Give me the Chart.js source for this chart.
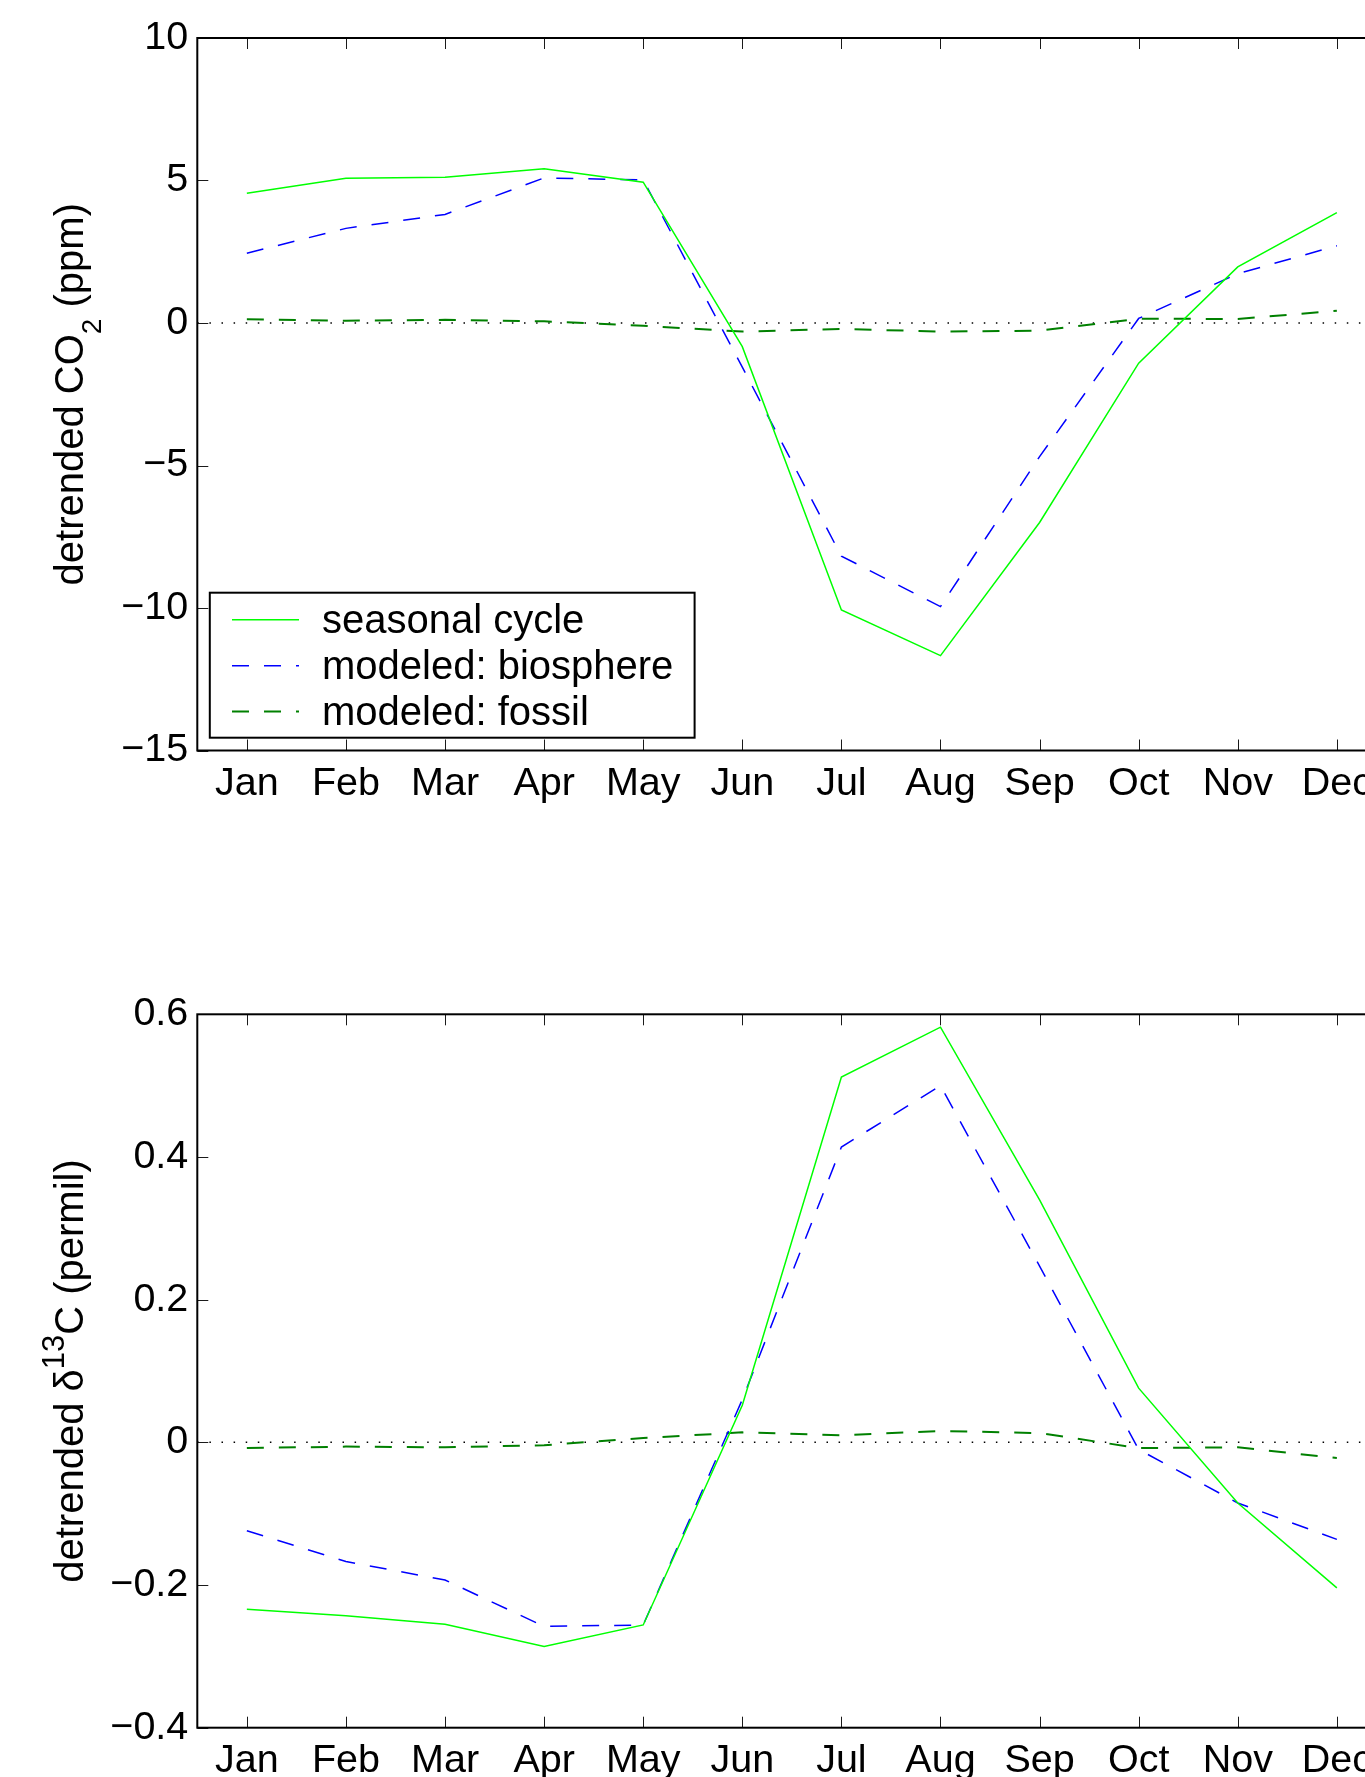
<!DOCTYPE html>
<html>
<head>
<meta charset="utf-8">
<script src="https://cdn.jsdelivr.net/npm/chart.js@4.4.1/dist/chart.umd.min.js"></script>
<style>
html,body{margin:0;padding:0;background:#fff;overflow:hidden;width:1365px;height:1777px;}
#wrap{position:relative;width:1365px;height:1777px;overflow:hidden;background:#fff;}
canvas{position:absolute;left:0;}
#c1{top:0;}
#c2{top:880px;}
</style>
</head>
<body>
<div id="wrap">
<canvas id="c1" width="1400" height="880"></canvas>
<canvas id="c2" width="1400" height="897"></canvas>
</div>
<script>
// ---------- data ----------
const months = ['Jan','Feb','Mar','Apr','May','Jun','Jul','Aug','Sep','Oct','Nov','Dec'];
const seriesNames = ['seasonal cycle','modeled: biosphere','modeled: fossil'];

const co2Seasonal  = [4.55, 5.08, 5.11, 5.41, 4.94, -0.83, -10.07, -11.67, -7.00, -1.41, 1.97, 3.87];
const co2Biosphere = [2.45, 3.32, 3.81, 5.09, 5.02, -1.55, -8.18, -9.95, -4.69, 0.16, 1.73, 2.71];
const co2Fossil    = [0.13, 0.08, 0.11, 0.06, -0.10, -0.30, -0.21, -0.30, -0.27, 0.15, 0.14, 0.43];

const d13Seasonal  = [-0.234, -0.243, -0.255, -0.286, -0.256, 0.052, 0.512, 0.582, 0.340, 0.076, -0.085, -0.204];
const d13Biosphere = [-0.124, -0.167, -0.193, -0.258, -0.256, 0.060, 0.414, 0.500, 0.247, -0.010, -0.085, -0.136];
const d13Fossil    = [-0.008, -0.006, -0.007, -0.004, 0.006, 0.014, 0.010, 0.016, 0.013, -0.008, -0.007, -0.022];

const co2TickValues = [-15, -10, -5, 0, 5, 10];
const co2TickLabels = ['\u221215', '\u221210', '\u22125', '0', '5', '10'];
const d13TickValues = [-0.4, -0.2, 0, 0.2, 0.4, 0.6];
const d13TickLabels = ['\u22120.4', '\u22120.2', '0', '0.2', '0.4', '0.6'];

const co2TitleParts = [['detrended CO', 0], ['2', 1], [' (ppm)', 0]];
const d13TitleParts = [['detrended \u03b4', 0], ['13', -1], ['C (permil)', 0]];

// ---------- styling ----------
const FONT = '"Liberation Sans", Arial, Helvetica, sans-serif';
const TICK_SIZE = 39.5;
const styles = [
  {borderColor: '#00ff00', borderWidth: 1.5, borderDash: []},
  {borderColor: '#0000ff', borderWidth: 1.5, borderDash: [17, 15]},
  {borderColor: '#008000', borderWidth: 2, borderDash: [17, 15]}
];

const framePlugin = {
  id: 'matlabFrame',
  beforeDatasetsDraw(chart) {
    const {ctx, chartArea: a, scales: {y}} = chart;
    const y0 = y.getPixelForValue(0);
    ctx.save();
    ctx.strokeStyle = '#000';
    ctx.lineWidth = 1.5;
    ctx.setLineDash([1.5, 10.6]);
    ctx.beginPath();
    ctx.moveTo(a.left, y0);
    ctx.lineTo(a.right, y0);
    ctx.stroke();
    ctx.restore();
  },
  afterDraw(chart, args, opts) {
    const {ctx, chartArea: a, scales: {x, y}} = chart;
    ctx.save();
    // ticks (inward, all sides)
    ctx.strokeStyle = '#1a1a1a';
    ctx.lineWidth = 1;
    ctx.setLineDash([]);
    const tl = 11;
    ctx.beginPath();
    months.forEach((m, i) => {
      const px = Math.round(x.getPixelForValue(i)) + 0.5;
      ctx.moveTo(px, a.bottom); ctx.lineTo(px, a.bottom - tl);
      ctx.moveTo(px, a.top); ctx.lineTo(px, a.top + tl);
    });
    opts.tickValues.forEach(v => {
      const py = Math.round(y.getPixelForValue(v)) + 0.5;
      ctx.moveTo(a.left, py); ctx.lineTo(a.left + tl, py);
      ctx.moveTo(a.right, py); ctx.lineTo(a.right - tl, py);
    });
    ctx.stroke();
    // frame
    ctx.strokeStyle = '#000';
    ctx.lineWidth = 2;
    ctx.strokeRect(a.left, a.top, a.right - a.left, a.bottom - a.top);

    // y title (rich text, rotated)
    const main = 40;
    const parts = opts.title.map(([t, k]) => ({t, k, size: k === 0 ? main : (k === 1 ? 28 : 31)}));
    let total = 0;
    parts.forEach(p => { ctx.font = p.size + 'px ' + FONT; p.w = ctx.measureText(p.t).width; total += p.w; });
    const cy = (a.top + a.bottom) / 2;
    ctx.translate(83, cy);
    ctx.rotate(-Math.PI / 2);
    ctx.fillStyle = '#000';
    ctx.textBaseline = 'alphabetic';
    ctx.textAlign = 'left';
    let cx = -total / 2;
    parts.forEach(p => {
      ctx.font = p.size + 'px ' + FONT;
      const dy = p.k === 1 ? 18 : (p.k === -1 ? -19 : 0);
      ctx.fillText(p.t, cx, dy);
      cx += p.w;
    });
    ctx.restore();

    // legend
    if (opts.legend) {
      ctx.save();
      const L = 209.8, T = 592.7, R = 694.6, B = 737.7;
      ctx.fillStyle = '#fff';
      ctx.fillRect(L, T, R - L, B - T);
      ctx.strokeStyle = '#000';
      ctx.lineWidth = 2;
      ctx.strokeRect(L, T, R - L, B - T);
      const baselines = [633.3, 679.3, 725.0];
      chart.data.datasets.forEach((ds, i) => {
        const by = baselines[i];
        ctx.save();
        ctx.strokeStyle = ds.borderColor;
        ctx.lineWidth = ds.borderWidth;
        ctx.setLineDash(ds.borderDash || []);
        ctx.beginPath();
        ctx.moveTo(232, by - 13.5);
        ctx.lineTo(299, by - 13.5);
        ctx.stroke();
        ctx.restore();
        ctx.fillStyle = '#000';
        ctx.font = '40px ' + FONT;
        ctx.textBaseline = 'alphabetic';
        ctx.textAlign = 'left';
        ctx.fillText(ds.label, 322, by);
      });
      ctx.restore();
    }
  }
};

function makeChart(id, cfg) {
  const datasets = [cfg.s, cfg.b, cfg.f].map((d, i) => Object.assign({
    label: seriesNames[i],
    data: d,
    pointRadius: 0,
    tension: 0,
    fill: false
  }, styles[i]));
  return new Chart(document.getElementById(id), {
    type: 'line',
    data: {labels: months, datasets},
    options: {
      responsive: false,
      animation: false,
      devicePixelRatio: 1,
      layout: {padding: {left: 0, right: 13.6, top: cfg.top, bottom: 0}},
      plugins: {
        legend: {display: false},
        tooltip: {enabled: false},
        matlabFrame: {tickValues: cfg.tv, title: cfg.title, legend: cfg.legend}
      },
      scales: {
        x: {
          type: 'category',
          offset: true,
          grid: {display: false},
          border: {display: false},
          ticks: {font: {family: FONT, size: TICK_SIZE}, color: '#000', padding: 2, maxRotation: 0, autoSkip: false},
          afterFit(s) { s.height = cfg.xh; }
        },
        y: {
          min: cfg.tv[0],
          max: cfg.tv[cfg.tv.length - 1],
          grid: {display: false},
          border: {display: false},
          afterBuildTicks(s) { s.ticks = cfg.tv.map(v => ({value: v})); },
          ticks: {
            font: {family: FONT, size: TICK_SIZE}, color: '#000', padding: 1,
            callback: (v) => {
              const k = cfg.tv.findIndex(t => Math.abs(t - v) < 1e-9);
              return k >= 0 ? cfg.tl[k] : '';
            }
          },
          afterFit(s) { s.width = 197.3; }
        }
      }
    },
    plugins: [framePlugin]
  });
}

makeChart('c1', {
  s: co2Seasonal, b: co2Biosphere, f: co2Fossil,
  tv: co2TickValues, tl: co2TickLabels, title: co2TitleParts,
  top: 38, xh: 880 - 750.5, legend: true
});
makeChart('c2', {
  s: d13Seasonal, b: d13Biosphere, f: d13Fossil,
  tv: d13TickValues, tl: d13TickLabels, title: d13TitleParts,
  top: 134.3, xh: 897 - 847.7, legend: false
});
</script>
</body>
</html>
